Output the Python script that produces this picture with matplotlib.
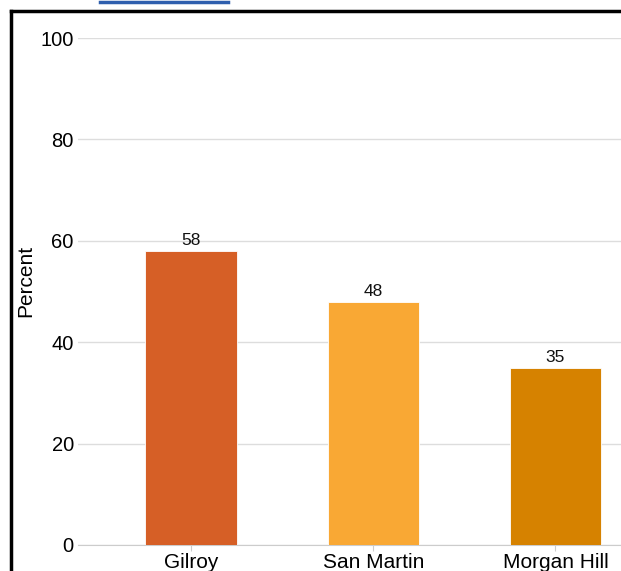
import matplotlib
matplotlib.use('Agg')
import matplotlib.pyplot as plt
from matplotlib.lines import Line2D

# data
places = ['Gilroy', 'San Martin', 'Morgan Hill']
percent = [58, 48, 35]
colors = ['#d65f26', '#f9a834', '#d68200']
yticks = [0, 20, 40, 60, 80, 100]

plt.rcParams['font.family'] = ['Liberation Sans', 'DejaVu Sans']

fig = plt.figure(figsize=(6.21, 5.71), dpi=100)
W, H = 621, 571
# axes: left at x=78, right past the edge, bottom y=545, top (100) y=38
ax = fig.add_axes([78 / W, 1 - 545 / H, 1 - 78 / W, (545 - 38) / H])

x = range(len(places))
bars = ax.bar(x, percent, width=0.5, color=colors, edgecolor='white', linewidth=0.6, zorder=3)
for xi, v in zip(x, percent):
    ax.text(xi, v + 0.6, str(v), ha='center', va='bottom', fontsize=12.5, color='#111111', zorder=4)

ax.set_xlim(-0.62, 2.36)
ax.set_ylim(0, 100)
ax.set_yticks(yticks)
ax.set_xticks(list(x))
ax.set_xticklabels(places, fontsize=15)
ax.tick_params(axis='y', length=0, labelsize=14.5, pad=3)
ax.tick_params(axis='x', length=4, color='#cccccc', labelsize=15, pad=2)
ax.grid(axis='y', color='#dddddd', linewidth=1, zorder=0)
ax.set_ylabel('Percent', fontsize=15)
ax.yaxis.set_label_coords(-43 / (W - 78), 0.52)
for s in ['top', 'right', 'left']:
    ax.spines[s].set_visible(False)
ax.spines['bottom'].set_color('#cccccc')

# outer frame and link underline
fig.add_artist(Line2D([10.5 / W, 10.5 / W], [0, 1 - 10.5 / H], transform=fig.transFigure, color='black', lw=2.5))
fig.add_artist(Line2D([10.5 / W, 1], [1 - 10.5 / H, 1 - 10.5 / H], transform=fig.transFigure, color='black', lw=2.5))
fig.add_artist(Line2D([100 / W, 228 / W], [1 - 1.5 / H, 1 - 1.5 / H], transform=fig.transFigure, color='#2f5fae', lw=2.5))

fig.savefig('out.png', dpi=100)
